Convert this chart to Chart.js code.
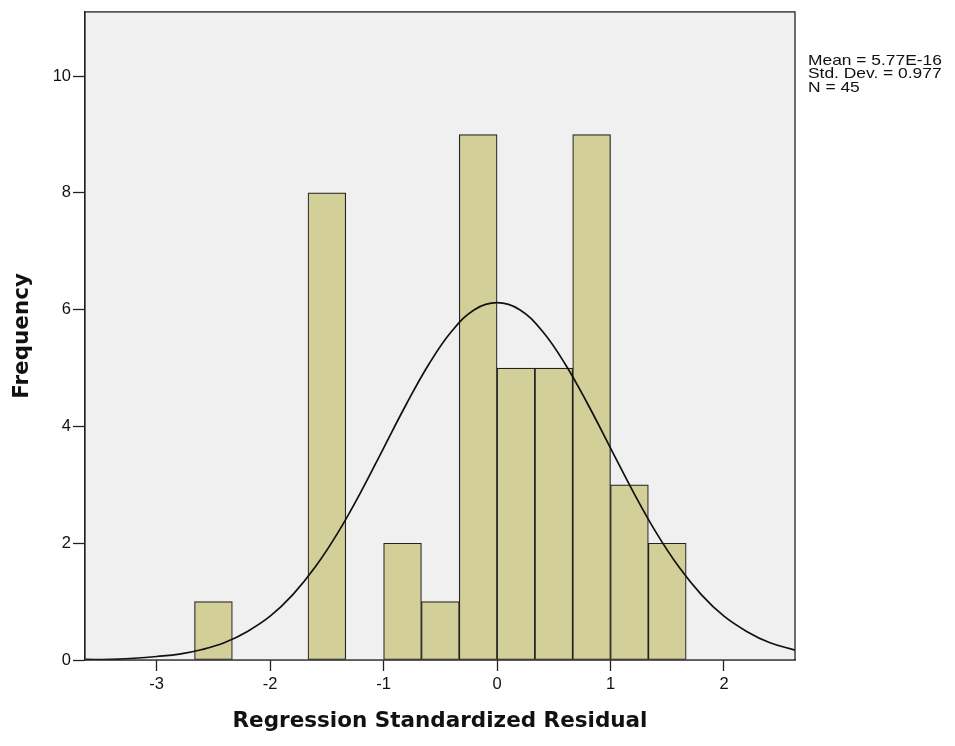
<!DOCTYPE html>
<html>
<head>
<meta charset="utf-8">
<script src="https://cdn.jsdelivr.net/npm/chart.js@4"></script>
<style>
  html, body { margin: 0; padding: 0; background: #ffffff; }
  #wrap { width: 955px; height: 746px; position: relative; }
</style>
</head>
<body>
<div id="wrap"><canvas id="c" width="955" height="746"></canvas></div>
<script>
// ---- data ----
// histogram bins (lower edge of each bin, bin width = 1/3)
const binLow = [-8/3, -7/3, -6/3, -5/3, -4/3, -3/3, -2/3, -1/3, 0, 1/3, 2/3, 3/3, 4/3];
const binWidth = 1/3;
const counts = [1, 0, 0, 8, 0, 2, 1, 9, 5, 5, 9, 3, 2];

// normal curve at these x positions
const curveX = [-3.63, -3.4, -3.2, -3.0, -2.8, -2.6, -2.4, -2.2, -2.0, -1.8, -1.6, -1.4, -1.2, -1.0, -0.8, -0.6, -0.4, -0.2,
                0, 0.2, 0.4, 0.6, 0.8, 1.0, 1.2, 1.4, 1.6, 1.8, 2.0, 2.2, 2.4, 2.626];
const curveY = [0.01, 0.01, 0.03, 0.06, 0.10, 0.18, 0.30, 0.49, 0.75, 1.12, 1.60, 2.19, 2.88, 3.63, 4.38, 5.07, 5.63, 6.00,
                6.12, 6.00, 5.63, 5.07, 4.38, 3.63, 2.88, 2.19, 1.60, 1.12, 0.75, 0.49, 0.30, 0.17];

const xTicks = [-3, -2, -1, 0, 1, 2];
const yTicks = [0, 2, 4, 6, 8, 10];
const statsLines = ['Mean = 5.77E-16', 'Std. Dev. = 0.977', 'N = 45'];
const xTitle = 'Regression Standardized Residual';
const yTitle = 'Frequency';

// ---- build datasets ----
const barData = binLow.map((lo, i) => ({ x: lo + binWidth / 2, y: counts[i] }));
const lineData = curveX.map((x, i) => ({ x: x, y: curveY[i] }));

const plotFrame = {
  id: 'plotFrame',
  beforeDatasetsDraw(chart) {
    const { ctx, chartArea: a } = chart;
    ctx.save();
    ctx.fillStyle = '#f0f0f0';
    ctx.fillRect(a.left, a.top, a.right - a.left, a.bottom - a.top);
    ctx.restore();
  },
  afterDraw(chart) {
    const { ctx, chartArea: a } = chart;
    ctx.save();
    ctx.strokeStyle = '#222222';
    ctx.lineWidth = 1.3;
    ctx.strokeRect(a.left, a.top, a.right - a.left, a.bottom - a.top);
    // stats box text (slightly wide lettering as in the reference)
    ctx.fillStyle = '#111111';
    ctx.font = '14.5px "Liberation Sans", Arial, sans-serif';
    ctx.textAlign = 'left';
    ctx.textBaseline = 'alphabetic';
    const x0 = a.right + 13;
    statsLines.forEach((t, i) => {
      ctx.save();
      ctx.translate(x0, a.top + 53 + i * 13.4);
      ctx.scale(1.2, 1);
      ctx.fillText(t, 0, 0);
      ctx.restore();
    });
    ctx.restore();
  }
};

new Chart(document.getElementById('c'), {
  type: 'bar',
  data: {
    datasets: [
      {
        type: 'line',
        data: lineData,
        borderColor: '#111111',
        borderWidth: 1.7,
        pointRadius: 0,
        tension: 0.4,
        fill: false,
        order: 0
      },
      {
        type: 'bar',
        data: barData,
        backgroundColor: '#d3cf98',
        borderColor: '#222222',
        borderWidth: 1.2,
        borderSkipped: false,
        barPercentage: 1.0,
        categoryPercentage: 1.0,
        order: 1
      }
    ]
  },
  options: {
    responsive: false,
    animation: false,
    devicePixelRatio: 1,
    layout: { padding: { left: 0, right: 160, top: 10, bottom: 0 } },
    plugins: { legend: { display: false }, tooltip: { enabled: false }, title: { display: false } },
    scales: {
      x: {
        type: 'linear',
        min: -3.632,
        max: 2.626,
        offset: false,
        afterFit(s) { s.height = 86; },
        afterBuildTicks(s) { s.ticks = xTicks.map(v => ({ value: v })); },
        grid: { drawOnChartArea: false, drawTicks: true, tickLength: 11, tickColor: '#222', tickWidth: 1.3, offset: false },
        border: { display: true, color: '#222', width: 1.3 },
        ticks: {
          color: '#111',
          padding: 4,
          maxRotation: 0,
          font: { family: '"Liberation Sans", Arial, sans-serif', size: 16.5 },
          callback: v => String(v)
        },
        title: {
          display: true,
          text: xTitle,
          color: '#111',
          font: { family: '"DejaVu Sans", Verdana, sans-serif', size: 21.5, weight: 'bold' },
          padding: { top: 0, bottom: 12 }
        }
      },
      y: {
        type: 'linear',
        min: 0,
        max: 11.1,
        afterFit(s) { s.width = 85; },
        afterBuildTicks(s) { s.ticks = yTicks.map(v => ({ value: v })); },
        grid: { drawOnChartArea: false, drawTicks: true, tickLength: 12, tickColor: '#222', tickWidth: 1.3 },
        border: { display: true, color: '#222', width: 1.3 },
        ticks: {
          color: '#111',
          padding: 2,
          font: { family: '"Liberation Sans", Arial, sans-serif', size: 16.5 },
          callback: v => String(v)
        },
        title: {
          display: true,
          text: yTitle,
          color: '#111',
          font: { family: '"DejaVu Sans", Verdana, sans-serif', size: 21.5, weight: 'bold' },
          padding: { top: 10, bottom: 0 }
        }
      }
    }
  },
  plugins: [plotFrame]
});
</script>
</body>
</html>
